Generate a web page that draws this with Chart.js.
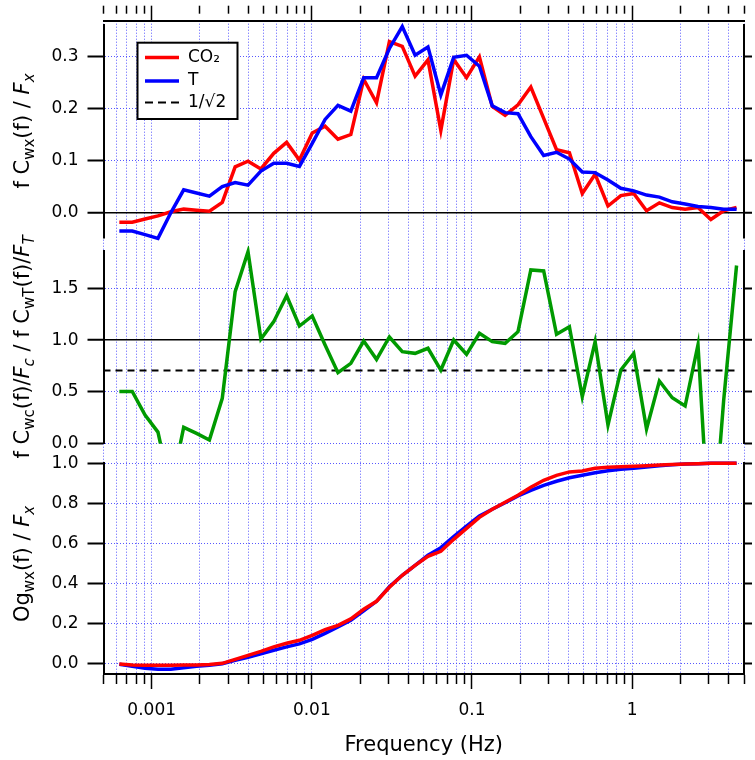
<!DOCTYPE html>
<html>
<head>
<meta charset="utf-8">
<script src="https://cdn.jsdelivr.net/npm/chart.js@4.4.1/dist/chart.umd.min.js"></script>
<style>
  html, body { margin: 0; padding: 0; background: #fff; }
  #wrap { position: relative; width: 755px; height: 760px; }
</style>
</head>
<body>
<div id="wrap"><canvas id="cospectra" width="755" height="760"></canvas></div>
<script>
// frequency bins (Hz)
const freq = [0.000628, 0.000756, 0.000909, 0.001094, 0.001316, 0.001584, 0.001906, 0.002293, 0.002759, 0.00332,
    0.003995, 0.004807, 0.005784, 0.00696, 0.008363, 0.01006, 0.0121, 0.01456, 0.01752, 0.02108,
    0.02536, 0.03051, 0.03671, 0.04416, 0.05313, 0.06393, 0.07691, 0.09253, 0.1113, 0.1339,
    0.1611, 0.1939, 0.2332, 0.2805, 0.3375, 0.4061, 0.4886, 0.5878, 0.7072, 0.8508,
    1.024, 1.231, 1.481, 1.782, 2.144, 2.58, 3.104, 3.734, 4.493];

// normalised cospectra f Cwx(f) / Fx
const co2Cospec = [-0.018, -0.018, -0.012, -0.006, 0.002, 0.007, 0.005, 0.003, 0.020, 0.088,
    0.099, 0.084, 0.114, 0.135, 0.101, 0.153, 0.166, 0.141, 0.150, 0.256,
    0.211, 0.328, 0.319, 0.262, 0.293, 0.158, 0.294, 0.259, 0.299, 0.204,
    0.187, 0.207, 0.241, 0.181, 0.121, 0.115, 0.037, 0.074, 0.013, 0.033,
    0.037, 0.004, 0.019, 0.010, 0.007, 0.010, -0.013, 0.004, 0.010];
const tCospec = [-0.035, -0.035, -0.042, -0.049, 0.000, 0.044, 0.038, 0.032, 0.050, 0.058,
    0.053, 0.080, 0.095, 0.095, 0.089, 0.133, 0.179, 0.206, 0.195, 0.259,
    0.259, 0.315, 0.357, 0.302, 0.318, 0.226, 0.298, 0.302, 0.281, 0.205,
    0.192, 0.190, 0.146, 0.110, 0.116, 0.103, 0.078, 0.077, 0.063, 0.047,
    0.042, 0.034, 0.030, 0.021, 0.017, 0.012, 0.010, 0.007, 0.007];

// ratio of the two normalised cospectra
const cospecRatio = [0.505, 0.505, 0.277, 0.112, -0.45, 0.158, 0.100, 0.036, 0.438, 1.467,
    1.853, 1.011, 1.178, 1.429, 1.136, 1.233, 0.953, 0.686, 0.776, 0.991,
    0.814, 1.030, 0.888, 0.872, 0.921, 0.711, 1.001, 0.863, 1.066, 0.985,
    0.969, 1.081, 1.677, 1.667, 1.056, 1.129, 0.454, 0.985, 0.180, 0.711,
    0.872, 0.142, 0.605, 0.444, 0.364, 0.953, -1.15, 0.42, 1.72];

// normalised ogives Og_wx(f) / Fx
const co2Ogive = [-0.003, -0.008, -0.010, -0.010, -0.010, -0.009, -0.008, -0.006, 0.000, 0.020,
    0.040, 0.060, 0.082, 0.100, 0.115, 0.140, 0.168, 0.190, 0.222, 0.270,
    0.310, 0.380, 0.440, 0.490, 0.535, 0.560, 0.620, 0.675, 0.730, 0.770,
    0.805, 0.840, 0.880, 0.915, 0.940, 0.957, 0.962, 0.975, 0.980, 0.983,
    0.985, 0.988, 0.992, 0.994, 0.997, 0.998, 1.000, 1.000, 1.000];
const tOgive = [-0.005, -0.015, -0.025, -0.030, -0.030, -0.022, -0.015, -0.010, -0.002, 0.015,
    0.030, 0.048, 0.065, 0.082, 0.097, 0.120, 0.150, 0.182, 0.215, 0.262,
    0.310, 0.383, 0.440, 0.490, 0.540, 0.578, 0.633, 0.686, 0.737, 0.770,
    0.803, 0.837, 0.865, 0.890, 0.910, 0.928, 0.940, 0.953, 0.963, 0.970,
    0.975, 0.982, 0.988, 0.993, 0.996, 0.998, 1.000, 1.000, 1.000];

// 1/sqrt(2) reference line
const refLineX = [0.0005, 4.493];
const refLineY = [Math.SQRT1_2, Math.SQRT1_2];

const xLabelValues = [0.001, 0.01, 0.1, 1];
const xTickLabels = ["0.001", "0.01", "0.1", "1"];
const topTickValues = [0, 0.1, 0.2, 0.3];
const topTickLabels = ["0.0", "0.1", "0.2", "0.3"];
const midTickValues = [0, 0.5, 1, 1.5];
const midTickLabels = ["0.0", "0.5", "1.0", "1.5"];
const botTickValues = [0, 0.2, 0.4, 0.6, 0.8, 1];
const botTickLabels = ["0.0", "0.2", "0.4", "0.6", "0.8", "1.0"];
const legendLabels = ["CO\u2082", "T", "1/\u221A2"];

const FONT = "DejaVu Sans";
const gridBlue = "rgba(70, 70, 255, 0.9)";
const gridDots = [1, 2];

// pixel extent of each panel (top, bottom)
const panelPx = { yTop: [25, 237.3], yMid: [251, 443.7], yBot: [463.3, 672] };

function pts(xs, ys) {
    return xs.map((x, i) => ({ x: x, y: ys[i] }));
}

// keep only 1..9 x 10^n ticks (drop the 1.5 ticks chart.js adds)
function keepIntegerMantissa(scale) {
    scale.ticks = scale.ticks.filter(t => {
        const m = t.value / Math.pow(10, Math.floor(Math.log10(t.value) + 1e-9));
        return Math.abs(m - Math.round(m)) < 1e-6;
    });
}

function xLabelFor(v) {
    const i = xLabelValues.findIndex(lv => Math.abs(Math.log10(v) - Math.log10(lv)) < 1e-6);
    return i >= 0 ? xTickLabels[i] : "";
}

function xAxis(position) {
    const bottom = position === "bottom";
    return {
        type: "logarithmic",
        position: position,
        min: 0.0005,
        max: 5,
        afterBuildTicks: keepIntegerMantissa,
        afterFit: s => { s.height = bottom ? 86 : 20.7; },
        // in v4 border.dash styles the grid lines
        border: { display: true, color: "#000", width: 2, dash: gridDots },
        grid: {
            drawOnChartArea: bottom,
            color: gridBlue,
            lineWidth: 1,
            drawTicks: true,
            tickLength: 15,
            tickWidth: 1.5,
            tickColor: "#000",
            tickBorderDash: c => (c.tick && c.tick.major) ? [] : [bottom ? 9 : 8, 40]
        },
        ticks: {
            display: bottom,
            autoSkip: false,
            maxRotation: 0,
            minRotation: 0,
            padding: 11,
            color: "#000",
            font: { family: FONT, size: 17 },
            callback: v => xLabelFor(v)
        },
        title: {
            display: bottom,
            text: "Frequency (Hz)",
            color: "#000",
            font: { family: FONT, size: 21 },
            padding: { top: 0, bottom: 2 }
        }
    };
}

function yAxis(position, range, values, labels, solidAt) {
    const left = position === "left";
    const isSolid = c => solidAt !== null && c.tick && Math.abs(c.tick.value - solidAt) < 1e-9;
    return {
        type: "linear",
        position: position,
        stack: left ? "L" : "R",
        min: range[0],
        max: range[1],
        afterBuildTicks: s => { s.ticks = values.map(v => ({ value: v })); },
        afterFit: s => { s.width = left ? 100 : 7; },
        border: { display: true, color: "#000", width: 2, dash: c => isSolid(c) ? [] : gridDots },
        grid: {
            drawOnChartArea: left,
            color: c => isSolid(c) ? "#000" : gridBlue,
            lineWidth: c => isSolid(c) ? 1.5 : 1,
            drawTicks: true,
            tickLength: left ? 16 : 8,
            tickWidth: 2,
            tickColor: "#000",
            tickBorderDash: []
        },
        ticks: {
            display: left,
            padding: 9,
            color: "#000",
            font: { family: FONT, size: 17 },
            callback: (v, i) => labels[i]
        }
    };
}

// put each panel's y axes at its own height
const panelLayout = {
    id: "panelLayout",
    afterLayout(chart) {
        Object.keys(panelPx).forEach(id => {
            [id, id + "R"].forEach(sid => {
                const s = chart.scales[sid];
                s.top = panelPx[id][0];
                s.bottom = panelPx[id][1];
                s.height = s.bottom - s.top;
                s.configure();
                s._gridLineItems = null;
                s._labelItems = null;
            });
        });
    }
};

// clip the ratio curve to its own panel
const panelClip = {
    id: "panelClip",
    beforeDatasetDraw(chart, args) {
        const ds = chart.data.datasets[args.index];
        if (!ds.panelClip) return;
        const s = chart.scales[ds.yAxisID];
        const ctx = chart.ctx;
        ctx.save();
        ctx.beginPath();
        ctx.rect(chart.chartArea.left, s.top - 5, chart.chartArea.right - chart.chartArea.left, s.bottom - s.top + 5);
        ctx.clip();
    },
    afterDatasetDraw(chart, args) {
        if (chart.data.datasets[args.index].panelClip) chart.ctx.restore();
    }
};

// y titles with subscripts / italics
const yTitles = [
    { cy: 131, parts: [["f C", ""], ["wx", "sub"], ["(f) / ", ""], ["F", "it"], ["x", "subit"]] },
    { cy: 347, parts: [["f C", ""], ["wc", "sub"], ["(f)/", ""], ["F", "it"], ["c", "subit"],
                       [" / f C", ""], ["wT", "sub"], ["(f)/", ""], ["F", "it"], ["T", "subit"]] },
    { cy: 564, parts: [["Og", ""], ["wx", "sub"], ["(f) / ", ""], ["F", "it"], ["x", "subit"]] }
];

function partFont(kind) {
    if (kind === "sub") return "15px \"" + FONT + "\"";
    if (kind === "subit") return "italic 15px \"" + FONT + "\"";
    if (kind === "it") return "italic 21px \"" + FONT + "\"";
    return "21px \"" + FONT + "\"";
}

const richTitles = {
    id: "richTitles",
    afterDraw(chart) {
        const ctx = chart.ctx;
        yTitles.forEach(t => {
            ctx.save();
            ctx.translate(28.5, t.cy);
            ctx.rotate(-Math.PI / 2);
            ctx.fillStyle = "#000";
            ctx.textBaseline = "alphabetic";
            ctx.textAlign = "left";
            let w = 0;
            t.parts.forEach(p => { ctx.font = partFont(p[1]); w += ctx.measureText(p[0]).width; });
            let x = -w / 2;
            t.parts.forEach(p => {
                ctx.font = partFont(p[1]);
                const dy = p[1].indexOf("sub") === 0 ? 5 : 0;
                ctx.fillText(p[0], x, dy);
                x += ctx.measureText(p[0]).width;
            });
            ctx.restore();
        });
    }
};

// legend box drawn inside the top panel
const legendBox = {
    id: "legendBox",
    afterDraw(chart) {
        const ctx = chart.ctx;
        const ds = chart.data.datasets;
        const items = [ds[0], ds[1], ds[3]];
        const rows = [57.5, 81, 102.5];
        ctx.save();
        ctx.fillStyle = "#fff";
        ctx.fillRect(137.5, 42.7, 100, 76.3);
        ctx.lineWidth = 2;
        ctx.strokeStyle = "#000";
        ctx.strokeRect(137.5, 42.7, 100, 76.3);
        items.forEach((d, i) => {
            ctx.beginPath();
            ctx.setLineDash(d.borderDash ? [8, 5] : []);
            ctx.lineWidth = d.borderDash ? 2 : 3.5;
            ctx.strokeStyle = d.borderColor;
            ctx.moveTo(145, rows[i]);
            ctx.lineTo(179, rows[i]);
            ctx.stroke();
            ctx.setLineDash([]);
            ctx.fillStyle = "#000";
            ctx.font = "17px \"" + FONT + "\"";
            ctx.textBaseline = "middle";
            ctx.fillText(d.label, 188, rows[i]);
        });
        ctx.restore();
    }
};

const lineStyle = { pointRadius: 0, borderWidth: 3.5, tension: 0, fill: false, clip: false };

new Chart(document.getElementById("cospectra"), {
    type: "line",
    data: {
        datasets: [
            Object.assign({ label: legendLabels[0], data: pts(freq, co2Cospec), borderColor: "#ff0000",
                xAxisID: "x", yAxisID: "yTop", order: 2 }, lineStyle),
            Object.assign({ label: legendLabels[1], data: pts(freq, tCospec), borderColor: "#0000ff",
                xAxisID: "x", yAxisID: "yTop", order: 1 }, lineStyle),
            Object.assign({ label: "ratio", data: pts(freq, cospecRatio), borderColor: "#009a00",
                xAxisID: "x", yAxisID: "yMid", order: 3, panelClip: true }, lineStyle),
            Object.assign({}, lineStyle, { label: legendLabels[2], data: pts(refLineX, refLineY), borderColor: "#000",
                borderWidth: 2, borderDash: [7, 5], xAxisID: "x", yAxisID: "yMid", order: 5 }),
            Object.assign({ label: "T ogive", data: pts(freq, tOgive), borderColor: "#0000ff",
                xAxisID: "x", yAxisID: "yBot", order: 7 }, lineStyle),
            Object.assign({ label: "CO2 ogive", data: pts(freq, co2Ogive), borderColor: "#ff0000",
                xAxisID: "x", yAxisID: "yBot", order: 6 }, lineStyle)
        ]
    },
    options: {
        responsive: false,
        animation: false,
        devicePixelRatio: 1,
        events: [],
        layout: { padding: { left: 3.5, right: 0.3, top: 0, bottom: 0 }, autoPadding: false },
        plugins: { legend: { display: false }, tooltip: { enabled: false } },
        scales: {
            x: xAxis("bottom"),
            x2: xAxis("top"),
            yBot: yAxis("left", [-0.0435, 1.0], botTickValues, botTickLabels, null),
            yMid: yAxis("left", [0, 1.86], midTickValues, midTickLabels, 1),
            yTop: yAxis("left", [-0.047, 0.36], topTickValues, topTickLabels, 0),
            yBotR: yAxis("right", [-0.0435, 1.0], botTickValues, botTickLabels, null),
            yMidR: yAxis("right", [0, 1.86], midTickValues, midTickLabels, 1),
            yTopR: yAxis("right", [-0.047, 0.36], topTickValues, topTickLabels, 0)
        }
    },
    plugins: [panelLayout, panelClip, richTitles, legendBox]
});
</script>
</body>
</html>
